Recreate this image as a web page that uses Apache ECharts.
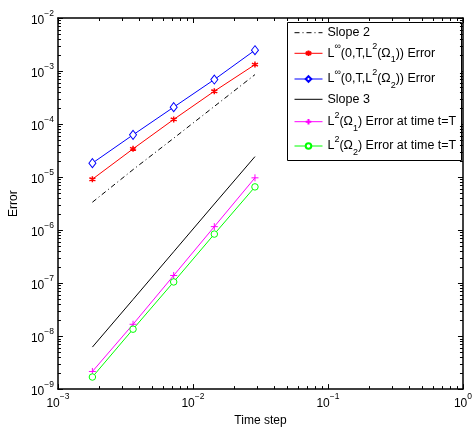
<!DOCTYPE html>
<html><head><meta charset="utf-8">
<script src="https://cdn.jsdelivr.net/npm/echarts@6/dist/echarts.min.js"></script>
<style>html,body{margin:0;padding:0;background:#fff}#c{width:475px;height:432px}</style>
</head><body><div id="c"></div>
<script>
const timeSteps = [0.0018, 0.0036, 0.0072, 0.0144, 0.0288];
const slope2 = [3.35e-6, 1.38e-5, 5.4e-5, 2.15e-4, 8.55e-4];
const linfOmega1 = [9.1e-6, 3.4e-5, 1.22e-4, 4.16e-4, 1.32e-3];
const linfOmega2 = [1.83e-5, 6.25e-5, 2.08e-4, 6.9e-4, 2.47e-3];
const slope3 = [6.2e-9, 4.9e-8, 3.9e-7, 3.1e-6, 2.43e-5];
const l2Omega1 = [2.15e-9, 1.67e-8, 1.39e-7, 1.16e-6, 9.66e-6];
const l2Omega2 = [1.69e-9, 1.35e-8, 1.05e-7, 8.4e-7, 6.52e-6];
const seriesNames = ['Slope 2', 'Linf1', 'Linf2', 'Slope 3', 'L2o1', 'L2o2'];
const legendTexts = [
  'Slope 2',
  'L{sup|∞}(0,T,L{sup|2}(Ω{sub|1})) Error',
  'L{sup|∞}(0,T,L{sup|2}(Ω{sub|2})) Error',
  'Slope 3',
  'L{sup|2}(Ω{sub|1}) Error at time t=T',
  'L{sup|2}(Ω{sub|2}) Error at time t=T'
];
const xMinorDecades = [1e-3, 1e-2, 1e-1];
const yMinorDecades = [1e-9, 1e-8, 1e-7, 1e-6, 1e-5, 1e-4, 1e-3];
const minorMult = [2, 3, 4, 5, 6, 7, 8, 9];

const FONT = '"Liberation Sans", Arial, sans-serif';
const pair = (ys) => timeSteps.map((x, i) => [x, ys[i]]);
const expFmt = (v) => {
  const e = Math.round(Math.log10(v));
  return '{b|10}{s|' + (e < 0 ? '\u2212' + (-e) : e) + '}';
};
const tickRich = {
  b: {fontSize: 12, fontFamily: FONT, color: '#000', verticalAlign: 'bottom', lineHeight: 18},
  s: {fontSize: 8.5, fontFamily: FONT, color: '#000', verticalAlign: 'top', lineHeight: 10}
};

const minorData = [];
xMinorDecades.forEach(d => minorMult.forEach(m => minorData.push(['x', d * m])));
yMinorDecades.forEach(d => minorMult.forEach(m => minorData.push(['y', d * m])));

const asterisk = 'path://M0,-5L0,5M-4.3,-2.5L4.3,2.5M-4.3,2.5L4.3,-2.5';
const plus = 'path://M0,-5L0,5M-5,0L5,0';

function lineSeries(name, ys, color, symbol, size, extra) {
  return Object.assign({
    name, type: 'line', data: pair(ys), symbol, symbolSize: size,
    lineStyle: {color, width: 1}, itemStyle: {color, borderColor: color, borderWidth: 1},
    showSymbol: symbol !== 'none', animation: false, z: 2
  }, extra || {});
}

const series = [
  lineSeries('Slope 2', slope2, '#000', 'none', 0, {lineStyle: {color: '#000', width: 1, type: [5, 3, 1, 3]}}),
  lineSeries('Linf1', linfOmega1, '#ff0000', asterisk, 6, {itemStyle: {color: '#ff0000', borderColor: '#ff0000', borderWidth: 1.5}}),
  lineSeries('Linf2', linfOmega2, '#0000ff', 'diamond', [7, 9], {itemStyle: {color: '#fff', borderColor: '#0000ff', borderWidth: 1}}),
  lineSeries('Slope 3', slope3, '#000', 'none', 0),
  lineSeries('L2o1', l2Omega1, '#ff00ff', plus, 7),
  lineSeries('L2o2', l2Omega2, '#00ff00', 'circle', 6.5, {itemStyle: {color: '#fff', borderColor: '#00ff00', borderWidth: 1}}),
  {
    type: 'custom', silent: true, animation: false, z: 5,
    data: minorData.map(d => d[0] === 'x' ? [d[1], 1e-9, 0] : [1e-3, d[1], 1]),
    renderItem: function (params, api) {
      const cs = params.coordSys;
      const kind = api.value(2);
      const p = api.coord([api.value(0), api.value(1)]);
      const L = 3;
      const st = {stroke: '#000', lineWidth: 1};
      if (kind === 0) {
        const x = Math.round(p[0]) + 0.5;
        return {type: 'group', children: [
          {type: 'line', shape: {x1: x, y1: cs.y + cs.height, x2: x, y2: cs.y + cs.height - L}, style: st},
          {type: 'line', shape: {x1: x, y1: cs.y, x2: x, y2: cs.y + L}, style: st}
        ]};
      } else {
        const y = Math.round(p[1]) + 0.5;
        return {type: 'group', children: [
          {type: 'line', shape: {x1: cs.x, y1: y, x2: cs.x + L, y2: y}, style: st},
          {type: 'line', shape: {x1: cs.x + cs.width, y1: y, x2: cs.x + cs.width - L, y2: y}, style: st}
        ]};
      }
    }
  }
];

const legendCenters = [32.7, 53.3, 79, 99.3, 121.7, 146];
const legendRich = {
  sup: {fontSize: 9, fontFamily: FONT, color: '#000', verticalAlign: 'top', lineHeight: 10},
  sub: {fontSize: 9, fontFamily: FONT, color: '#000', verticalAlign: 'bottom', lineHeight: 10}
};
const legends = seriesNames.map((n, i) => {
  const noSymbol = (n === 'Slope 2' || n === 'Slope 3');
  const lg = {
    data: [n], left: 294, top: legendCenters[i] - 11, padding: 0,
    itemWidth: 28, itemHeight: 7, itemGap: 0,
    formatter: () => legendTexts[i],
    textStyle: {fontSize: 12.5, fontFamily: FONT, color: '#000', lineHeight: 22, rich: legendRich},
    lineStyle: {width: 1},
    selectedMode: false
  };
  if (noSymbol) lg.itemStyle = {opacity: 0};
  return lg;
});

const axisCommon = {
  type: 'log', logBase: 10,
  axisLine: {show: true, lineStyle: {color: '#000', width: 1.5}},
  axisTick: {show: true, inside: true, length: 5, lineStyle: {color: '#000'}},
  splitLine: {show: false}, minorTick: {show: false}
};

const option = {
  backgroundColor: '#fff',
  animation: false,
  grid: {left: 56, right: 9, top: 18, bottom: 34},
  xAxis: [
    Object.assign({}, axisCommon, {
      min: 1e-3, max: 1, position: 'bottom',
      axisLabel: {formatter: expFmt, rich: tickRich, margin: 3},
      name: 'Time step', nameLocation: 'middle', nameGap: 24,
      nameTextStyle: {fontSize: 12, fontFamily: FONT, color: '#000'}
    }),
    Object.assign({}, axisCommon, {min: 1e-3, max: 1, position: 'top', axisLabel: {show: false}})
  ],
  yAxis: [
    Object.assign({}, axisCommon, {
      min: 1e-9, max: 1e-2, position: 'left',
      axisLabel: {formatter: expFmt, rich: tickRich, margin: 4},
      name: 'Error', nameLocation: 'middle', nameGap: 33,
      nameTextStyle: {fontSize: 12, fontFamily: FONT, color: '#000'}
    }),
    Object.assign({}, axisCommon, {min: 1e-9, max: 1e-2, position: 'right', axisLabel: {show: false}})
  ],
  legend: legends,
  graphic: [{
    type: 'rect', z: 3, shape: {x: 287.5, y: 22.5, width: 174, height: 138},
    style: {fill: '#fff', stroke: '#000', lineWidth: 1}
  }],
  series
};

const chart = echarts.init(document.getElementById('c'), null, {renderer: 'canvas'});
chart.setOption(option);
</script></body></html>
